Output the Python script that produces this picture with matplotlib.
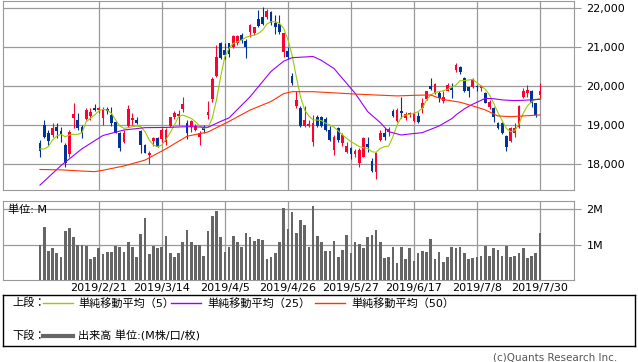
import matplotlib.pyplot as plt
import numpy as np
import pandas as pd

plt.rcParams['font.family'] = ['DejaVu Sans', 'Noto Sans CJK JP']

# trading days (Tokyo calendar)
holidays = ['2019-02-11', '2019-03-21', '2019-04-29', '2019-04-30', '2019-05-01',
            '2019-05-02', '2019-05-03', '2019-05-06', '2019-07-15']
days = pd.bdate_range('2019-01-31', '2019-07-30')
days = days[~days.isin(pd.to_datetime(holidays))]
day_labels = [f'{d.year}/{d.month}/{d.day}' for d in days]

tick_dates = ['2019/2/21', '2019/3/14', '2019/4/5', '2019/4/26',
              '2019/5/27', '2019/6/17', '2019/7/8', '2019/7/30']

opens = [18540, 19000, 18810, 18740, 18965, 18855, 18500, 18270, 19180, 19140,
         18965, 19160, 19240, 19450, 19390, 19180, 19420, 19265, 19095, 18795,
         18580, 18985, 19140, 19140, 18865, 18495, 18240, 18605, 18665, 18640,
         18580, 18985, 19205, 19240, 19410, 19070, 18965, 18880, 18690, 18950,
         19265, 19665, 20260, 21115, 20925, 21095, 20995, 21095, 21310, 21165,
         21395, 21350, 21720, 21780, 21760, 21905, 21610, 21590, 20885, 20910,
         20265, 19495, 19455, 18985, 18985, 18580, 19220, 19205, 19155, 18880,
         18370, 18940, 18540, 18325, 18420, 18265, 18045, 18195, 18520, 18095,
         17810, 18625, 18810, 18840, 19370, 19110, 19370, 19195, 19265, 19110,
         19240, 19435, 19665, 20010, 19820, 19820, 19630, 19890, 19950, 20410,
         20485, 20200, 19970, 19970, 20005, 19945, 19835, 19460, 19435, 19065,
         19065, 18725, 18605, 18810, 18950, 19715, 19820, 19885, 19565, 19775]
highs = [18620, 19140, 18880, 19050, 19050, 18965, 18540, 18880, 19580, 19310,
         19010, 19435, 19435, 19545, 19475, 19475, 19470, 19475, 19110, 18840,
         18880, 19520, 19325, 19205, 18880, 18515, 18340, 18710, 18710, 18925,
         18925, 19220, 19375, 19395, 19735, 19145, 19135, 19035, 18865, 19010,
         19620, 20245, 21055, 21140, 21115, 21115, 21310, 21310, 21350, 21205,
         21590, 21525, 21950, 22035, 21985, 21925, 21820, 21820, 21350, 21010,
         20335, 19865, 19495, 19495, 19135, 19265, 19265, 19240, 19205, 18985,
         18750, 18965, 18795, 18580, 18455, 18385, 18410, 18710, 18690, 18155,
         18325, 18880, 18925, 18950, 19410, 19435, 19735, 19340, 19350, 19350,
         19350, 19690, 19890, 20205, 20095, 19865, 19865, 20075, 20075, 20590,
         20515, 20245, 19990, 20200, 20030, 20030, 19860, 19645, 19475, 19095,
         19095, 18750, 18965, 19050, 19520, 19945, 20030, 19905, 19580, 20090]
lows = [18200, 18670, 18500, 18710, 18685, 18580, 17940, 18200, 18920, 18880,
        18670, 19135, 19135, 19365, 19305, 19010, 19300, 18980, 18795, 18350,
        18540, 18965, 19010, 19035, 18280, 18280, 18010, 18470, 18435, 18580,
        18495, 18965, 19155, 19010, 19350, 18660, 18840, 18845, 18495, 18810,
        19170, 19605, 20245, 20685, 20685, 20755, 20970, 21055, 21115, 20730,
        21265, 21310, 21525, 21565, 21720, 21565, 21325, 21325, 20755, 20690,
        20035, 19435, 18950, 18950, 18950, 18470, 18965, 18950, 18855, 18605,
        18240, 18580, 18470, 18300, 18130, 18195, 17940, 18180, 18325, 17810,
        17615, 18605, 18625, 18725, 19220, 19095, 19180, 19135, 19205, 19095,
        19070, 19310, 19650, 19905, 19805, 19605, 19580, 19865, 19710, 20375,
        20310, 19860, 19730, 19945, 19885, 19885, 19560, 19410, 19095, 18895,
        18780, 18350, 18580, 18690, 18920, 19690, 19730, 19475, 19205, 19665]
closes = [18350, 18710, 18610, 18940, 18855, 18780, 18030, 18820, 19290, 18940,
          18810, 19390, 19350, 19390, 19435, 19410, 19370, 19050, 18810, 18410,
          18810, 19410, 19180, 19070, 18495, 18300, 18280, 18685, 18455, 18880,
          18880, 19205, 19325, 19290, 19545, 18795, 19120, 18985, 18810, 18880,
          19350, 20195, 20755, 20715, 20800, 20815, 21290, 21290, 21180, 21010,
          21565, 21505, 21550, 21590, 21930, 21610, 21525, 21395, 21350, 20755,
          20075, 19650, 18985, 19135, 19035, 19050, 18985, 18985, 18880, 18625,
          18710, 18625, 18750, 18470, 18265, 18350, 18370, 18665, 18435, 17840,
          18280, 18810, 18690, 18905, 19240, 19395, 19325, 19280, 19310, 19310,
          19095, 19580, 19865, 19930, 20060, 19710, 19735, 20035, 19905, 20545,
          20370, 19885, 19885, 20175, 19970, 20005, 19580, 19605, 19205, 18920,
          18810, 18435, 18920, 18920, 19495, 19885, 19905, 19565, 19265, 19885]

# volume, millions
volume = [0.98, 1.49, 0.81, 0.89, 0.75, 0.64, 1.37, 1.48, 1.20, 0.98,
          0.99, 0.95, 0.60, 0.66, 0.89, 0.72, 0.80, 0.80, 0.97, 0.93,
          0.80, 1.06, 0.92, 0.66, 1.31, 1.74, 0.72, 0.97, 0.89, 0.94,
          1.23, 0.75, 0.66, 0.77, 1.08, 1.40, 1.08, 0.99, 0.98, 0.69,
          1.37, 1.80, 1.96, 1.20, 0.80, 0.92, 1.25, 1.06, 0.92, 1.33,
          1.20, 1.11, 1.17, 1.14, 0.58, 0.66, 0.75, 1.06, 2.02, 1.45,
          1.93, 1.34, 1.68, 1.54, 0.94, 2.08, 1.25, 1.06, 0.83, 0.83,
          1.11, 0.66, 0.86, 1.28, 0.75, 1.06, 1.03, 0.89, 1.20, 1.28,
          1.42, 1.06, 0.63, 0.66, 0.92, 0.49, 0.92, 0.60, 0.89, 0.55,
          0.77, 0.83, 0.80, 1.17, 0.60, 0.80, 0.52, 0.66, 0.92, 0.89,
          0.94, 0.77, 0.58, 0.63, 0.66, 0.69, 0.97, 0.69, 0.89, 0.86,
          0.69, 0.97, 0.66, 0.69, 0.77, 0.89, 0.63, 0.69, 0.75, 1.34]

ma5 = [18394, 18394, 18454, 18624, 18726, 18769, 18709, 18752, 18769, 18769,
       18812, 19093, 19178, 19263, 19366, 19408, 19391, 19306, 19136, 18982,
       18923, 18940, 18965, 18982, 18965, 18837, 18624, 18496, 18454, 18496,
       18641, 18812, 19008, 19221, 19263, 19221, 19178, 19093, 18982, 18923,
       18948, 19178, 19647, 20244, 20755, 20968, 21096, 21139, 21182, 21250,
       21284, 21309, 21352, 21437, 21591, 21650, 21650, 21608, 21480, 21199,
       20798, 20244, 19732, 19391, 19238, 19136, 19135, 19120, 19051, 19009,
       18949, 18855, 18752, 18667, 18581, 18521, 18453, 18427, 18410, 18325,
       18309, 18411, 18454, 18471, 18709, 19008, 19204, 19263, 19280, 19306,
       19349, 19434, 19647, 19775, 19835, 19860, 19886, 19920, 19971, 20031,
       20142, 20142, 20159, 20176, 20090, 20005, 19920, 19775, 19562, 19323,
       19118, 18922, 18837, 18863, 19033, 19306, 19494, 19604, 19664, 19681]

ma25_idx = [0, 5, 10, 15, 20, 25, 30, 35, 40, 43, 45, 50, 55, 58, 60, 65, 67, 70,
            75, 78, 81, 83, 86, 88, 91, 93, 95, 98, 99, 101, 103, 106, 108, 110,
            113, 115, 119]
ma25 = [17470, 17970, 18400, 18740, 18880, 18940, 18945, 18965, 18950, 19100,
        19190, 19730, 20380, 20640, 20730, 20760, 20660, 20450, 19820, 19350,
        19068, 18838, 18752, 18778, 18812, 18897, 18983, 19170, 19265, 19420,
        19540, 19690, 19680, 19650, 19632, 19640, 19665]

ma50_idx = [0, 5, 10, 13, 15, 20, 25, 30, 35, 40, 45, 50, 55, 58, 60, 65, 70, 75,
            80, 85, 90, 93, 96, 100, 103, 106, 109, 112, 115, 119]
ma50 = [17870, 17860, 17830, 17815, 17850, 17960, 18110, 18400, 18720, 18830,
        19100, 19390, 19610, 19810, 19860, 19860, 19830, 19800, 19775, 19752,
        19770, 19775, 19660, 19590, 19496, 19393, 19239, 19222, 19239, 19265]

price_ticks = [18000, 19000, 20000, 21000, 22000]
price_labels = ['18,000', '19,000', '20,000', '21,000', '22,000']
vol_ticks = [1, 2]
vol_labels = ['1M', '2M']

RED = '#ff0033'
BLUE = '#003399'
GRID = '#999999'

x = np.arange(len(closes))
o = np.array(opens); c = np.array(closes)
tick_pos = [day_labels.index(t) for t in tick_dates]

fig = plt.figure(figsize=(6.38, 3.62), dpi=100)
W, H = 638, 362

def px_axes(l, t, r, b):
    return fig.add_axes([l / W, 1 - b / H, (r - l) / W, (b - t) / H])

# price panel
ax = px_axes(3, 1, 574, 190)
up = c >= o
cols = np.where(up, RED, BLUE)
ax.vlines(x, lows, highs, colors=cols, lw=0.8, zorder=3)
body = np.maximum(np.abs(c - o), 12)
ax.bar(x, body, bottom=np.minimum(o, c), width=0.66, color=cols, lw=0, zorder=3)
ax.plot(x, ma5, color='#99cc00', lw=0.8, zorder=4)
ax.plot(ma25_idx, ma25, color='#9900ff', lw=0.8, zorder=4)
ax.plot(ma50_idx, ma50, color='#ff3300', lw=0.8, zorder=4)
ax.set_xlim(-8.8, 127.1)
ax.set_ylim(17345, 22180)
ax.set_xticks(tick_pos)
ax.set_xticklabels([])
ax.set_yticks(price_ticks)
ax.set_yticklabels(price_labels)
ax.yaxis.tick_right()
ax.tick_params(axis='x', length=0)
ax.tick_params(axis='y', length=5, color=GRID, labelsize=8, pad=4)
ax.grid(color=GRID, lw=0.9)
for s in ax.spines.values():
    s.set_color(GRID)

# volume panel
av = px_axes(3, 201, 574, 280)
av.bar(x, volume, width=0.64, color='#666666', lw=0, zorder=3)
av.set_xlim(-8.8, 127.1)
av.set_ylim(0, 2.23)
av.set_xticks(tick_pos)
av.set_xticklabels(tick_dates, fontsize=8)
av.set_yticks(vol_ticks)
av.set_yticklabels(vol_labels)
av.yaxis.tick_right()
av.tick_params(axis='x', length=0, pad=2)
av.tick_params(axis='y', length=5, color=GRID, labelsize=8, pad=4)
av.grid(color=GRID, lw=0.9)
for s in av.spines.values():
    s.set_color(GRID)
av.text(5 / 571, 1 - 9 / 79, '単位: M', transform=av.transAxes, fontsize=8,
        va='center', ha='left', zorder=5)

# legend box
lg = px_axes(3, 295, 635, 346)
lg.set_xlim(0, 632)
lg.set_ylim(51, 0)
lg.set_xticks([]); lg.set_yticks([])
for s in lg.spines.values():
    s.set_color('black'); s.set_linewidth(1)
fs = 8
lg.text(9, 8, '上段：', fontsize=fs, va='center')
lg.plot([40, 70], [8, 8], color='#99cc00', lw=1)
lg.text(75, 8, '単純移動平均（5）', fontsize=fs, va='center')
lg.plot([168, 198], [8, 8], color='#9900ff', lw=1)
lg.text(204, 8, '単純移動平均（25）', fontsize=fs, va='center')
lg.plot([312, 342], [8, 8], color='#ff3300', lw=1)
lg.text(348, 8, '単純移動平均（50）', fontsize=fs, va='center')
lg.text(9, 41, '下段：', fontsize=fs, va='center')
lg.plot([40, 70], [41, 41], color='#666666', lw=3)
lg.text(75, 41, '出来高 単位:(M株/口/枚)', fontsize=fs, va='center')

fig.text(617 / W, 1 - 357 / H, '(c)Quants Research Inc.', fontsize=7.5,
         color='#555555', ha='right', va='center')

fig.savefig('out.png', dpi=100)
